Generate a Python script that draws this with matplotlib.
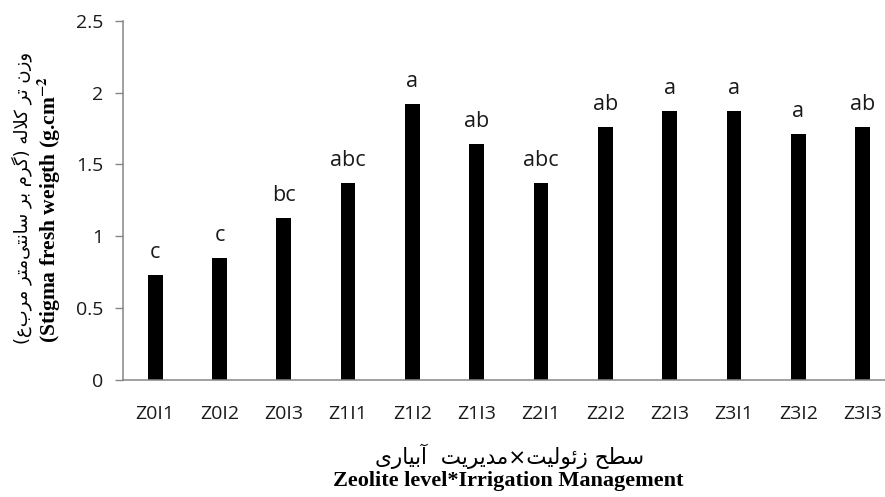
import matplotlib
matplotlib.use("Agg")
import matplotlib.pyplot as plt

# data
treatments = ["Z0I1", "Z0I2", "Z0I3", "Z1I1", "Z1I2", "Z1I3",
              "Z2I1", "Z2I2", "Z2I3", "Z3I1", "Z3I2", "Z3I3"]
fresh_weight = [0.73, 0.85, 1.13, 1.37, 1.92, 1.64,
                1.37, 1.76, 1.87, 1.87, 1.71, 1.76]
letters = ["c", "c", "bc", "abc", "a", "ab",
           "abc", "ab", "a", "a", "a", "ab"]
yticks = [0, 0.5, 1, 1.5, 2, 2.5]

ylabel_fa = "وزن تر کلاله (گرم بر سانتی\u200cمتر مربع)"
ylabel_en = r"(Stigma fresh weigth (g.cm$^{\mathbf{-2}}$"
xlabel_fa = "سطح زئولیت×مدیریت  آبیاری"
xlabel_en = "Zeolite level*Irrigation Management"

# matplotlib has no arabic shaping, so map letters to presentation forms by hand
# forms: isolated, final, initial, medial (None = letter does not join to the left)
FORMS = {
    "ا": ("\uFE8D", "\uFE8E", None, None),
    "آ": ("\uFE81", "\uFE82", None, None),
    "ب": ("\uFE8F", "\uFE90", "\uFE91", "\uFE92"),
    "ت": ("\uFE95", "\uFE96", "\uFE97", "\uFE98"),
    "ح": ("\uFEA1", "\uFEA2", "\uFEA3", "\uFEA4"),
    "د": ("\uFEA9", "\uFEAA", None, None),
    "ر": ("\uFEAD", "\uFEAE", None, None),
    "ز": ("\uFEAF", "\uFEB0", None, None),
    "س": ("\uFEB1", "\uFEB2", "\uFEB3", "\uFEB4"),
    "ط": ("\uFEC1", "\uFEC2", "\uFEC3", "\uFEC4"),
    "ل": ("\uFEDD", "\uFEDE", "\uFEDF", "\uFEE0"),
    "م": ("\uFEE1", "\uFEE2", "\uFEE3", "\uFEE4"),
    "ن": ("\uFEE5", "\uFEE6", "\uFEE7", "\uFEE8"),
    "ه": ("\uFEE9", "\uFEEA", "\uFEEB", "\uFEEC"),
    "و": ("\uFEED", "\uFEEE", None, None),
    "ئ": ("\uFE89", "\uFE8A", "\uFE8B", "\uFE8C"),
    "ی": ("\uFBFC", "\uFBFD", "\uFBFE", "\uFBFF"),
    "ک": ("\uFB8E", "\uFB8F", "\uFB90", "\uFB91"),
    "گ": ("\uFB92", "\uFB93", "\uFB94", "\uFB95"),
}


def shape_fa(text):
    chars = list(text)
    out = []
    n = len(chars)
    i = 0
    while i < n:
        c = chars[i]
        prev = chars[i - 1] if i > 0 else ""
        joins_prev = prev in FORMS and FORMS[prev][2] is not None
        # lam + alef ligature
        if c == "ل" and i + 1 < n and chars[i + 1] == "ا":
            out.append("\uFEFC" if joins_prev else "\uFEFB")
            i += 2
            continue
        if c not in FORMS:
            if c != "\u200c":
                out.append(c)
            i += 1
            continue
        nxt = chars[i + 1] if i + 1 < n else ""
        joins_next = FORMS[c][2] is not None and nxt in FORMS
        iso, fin, ini, med = FORMS[c]
        if joins_prev and joins_next:
            out.append(med)
        elif joins_prev:
            out.append(fin)
        elif joins_next:
            out.append(ini)
        else:
            out.append(iso)
        i += 1
    vis = "".join(reversed(out))
    return vis.translate(str.maketrans("()", ")("))


plt.rcParams["mathtext.fontset"] = "stix"

fig = plt.figure(figsize=(8.85, 4.97), dpi=100)
ax = fig.add_axes([0.139, 0.2354, 0.872, 0.7229])

x = list(range(len(treatments)))
ax.bar(x, fresh_weight, width=0.23, color="black")

for xi, v, lab in zip(x, fresh_weight, letters):
    ax.annotate(lab, (xi, v), xytext=(0, 17), textcoords="offset pixels",
                ha="center", va="baseline", fontsize=15.5, family="Open Sans",
                color="#1a1a1a")

ax.set_xlim(-0.5, len(treatments) - 0.5)
ax.set_ylim(0, 2.5)
ax.set_yticks(yticks)
ax.set_yticklabels([f"{t:g}" for t in yticks], family="Open Sans", fontsize=14,
                   color="#1a1a1a")
ax.set_xticks(x)
ax.set_xticklabels(treatments, family="Open Sans", fontsize=14, color="#1a1a1a")
ax.tick_params(axis="x", length=0, pad=18)
ax.tick_params(axis="y", length=6, width=1, color="#868686", pad=8)

for side in ["top", "right"]:
    ax.spines[side].set_visible(False)
for side in ["left", "bottom"]:
    ax.spines[side].set_color("#868686")
    ax.spines[side].set_linewidth(1.1)

# axis titles, persian line above english line
fig.text(22 / 885, 1 - 198 / 497, shape_fa(ylabel_fa), rotation=90,
         ha="center", va="center", fontsize=13, family="DejaVu Sans")
fig.text(49 / 885, 1 - 210 / 497, ylabel_en, rotation=90,
         ha="center", va="center", fontsize=15.5, family="Liberation Serif",
         weight="bold")
fig.text(510 / 885, 1 - 456 / 497, shape_fa(xlabel_fa),
         ha="center", va="center", fontsize=15.5, family="DejaVu Sans")
fig.text(508 / 885, 1 - 481 / 497, xlabel_en,
         ha="center", va="center", fontsize=16, family="Liberation Serif",
         weight="bold")

fig.savefig("out.png", dpi=100)
